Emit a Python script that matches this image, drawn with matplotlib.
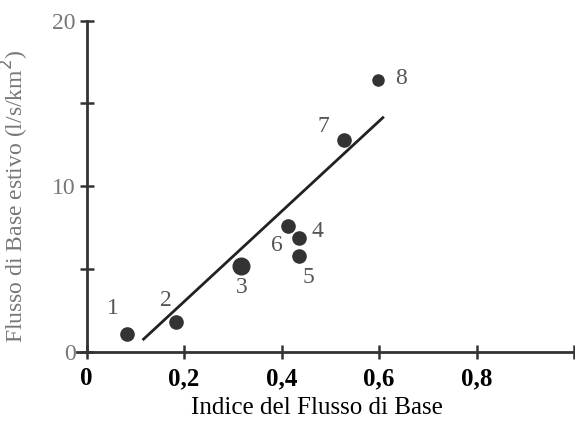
import matplotlib.pyplot as plt

plt.rcParams['font.family'] = ['Liberation Serif', 'DejaVu Serif']

# stazioni: indice del flusso di base vs flusso di base estivo
station_ids = ['1', '2', '3', '4', '5', '6', '7', '8']
bfi = [0.083, 0.184, 0.316, 0.436, 0.436, 0.413, 0.528, 0.597]
summer_flow = [1.1, 1.8, 5.2, 6.9, 5.8, 7.6, 12.8, 16.4]
marker_sizes = [9.5, 9.5, 12, 9.5, 9.5, 9.5, 9.5, 8]

# retta di regressione (estremi)
fit_x = [0.115, 0.610]
fit_y = [0.72, 14.2]

x_ticks = [0.0, 0.2, 0.4, 0.6, 0.8, 1.0]
x_tick_labels = ['0', '0,2', '0,4', '0,6', '0,8', '']
y_ticks = [0, 5, 10, 15, 20]
y_tick_labels = ['0', '', '10', '', '20']

# offset delle etichette numeriche in unita' dati
label_dx = [-0.028, -0.022, 0.002, 0.038, 0.02, -0.023, -0.042, 0.048]
label_dy = [1.5, 1.3, -1.3, 0.4, -1.3, -1.15, 0.8, 0.1]

# asse x: 0 a 86.5 px, 487.5 px per unita'; asse y: 0 a 352 px, 16.57 px per unita'
x0, y0 = -0.02, -0.6
left_px = 86.5 + x0 * 487.5
bottom_px = 352 - y0 * 16.57
fig = plt.figure(figsize=(5.75, 4.22), dpi=100)
ax = fig.add_axes([left_px / 575, 1 - bottom_px / 422,
                   (1.0 - x0) * 487.5 / 575, (20 - y0) * 16.57 / 422])

ax.plot(fit_x, fit_y, color='#222222', lw=2.0, solid_capstyle='butt')
for x, y, ms in zip(bfi, summer_flow, marker_sizes):
    ax.plot(x, y, 'o', color='#333333', ms=ms, zorder=3)
for sid, x, y, dx, dy in zip(station_ids, bfi, summer_flow, label_dx, label_dy):
    ax.text(x + dx, y + dy, sid, fontsize=17, color='#555555',
            ha='center', va='center')

ax.set_xlim(x0, 1.0)
ax.set_ylim(y0, 20)
for side in ['top', 'right']:
    ax.spines[side].set_visible(False)
ax.spines['left'].set_position(('data', 0.0))
ax.spines['left'].set_bounds(0, 20)
ax.spines['bottom'].set_position(('data', 0.0))
ax.spines['bottom'].set_bounds(x0, 1.0)
for side in ['left', 'bottom']:
    ax.spines[side].set_linewidth(2)
    ax.spines[side].set_color('#333333')

ax.set_xticks(x_ticks)
ax.set_xticklabels(x_tick_labels, fontsize=18, fontweight='bold', color='black')
ax.set_yticks(y_ticks)
ax.set_yticklabels(y_tick_labels, fontsize=17, color='#777777')
ax.tick_params(axis='both', direction='inout', length=10, width=1.8,
               color='#333333')
ax.tick_params(axis='x', pad=6)
ax.tick_params(axis='y', pad=3)

ax.set_xlabel('Indice del Flusso di Base', fontsize=18)
ax.xaxis.set_label_coords((317 - left_px) / ((1.0 - x0) * 487.5),
                          (bottom_px - 397) / ((20 - y0) * 16.57))
ax.set_ylabel('Flusso di Base estivo (l/s/km$^2$)', fontsize=17,
              color='#777777', va='center')
ax.yaxis.set_label_coords((15 - left_px) / ((1.0 - x0) * 487.5),
                          (bottom_px - 196) / ((20 - y0) * 16.57))

fig.savefig('out.png', dpi=100)
